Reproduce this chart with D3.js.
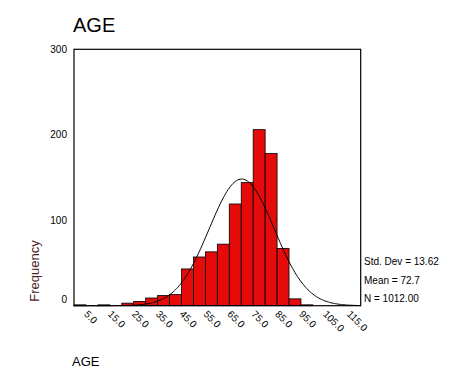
<html>
<head>
<title>AGE histogram</title>
<script src="https://d3js.org/d3.v7.min.js"></script>
<style>
  body { margin: 0; background: #fff; }
  text { font-family: Arial, "Liberation Sans", sans-serif; }
</style>
</head>
<body>
<div id="cont"></div>
<script>
// bin midpoints (width 5) and counts
var binMids = [5, 10, 15, 20, 25, 30, 35, 40, 45, 50, 55, 60, 65, 70, 75, 80, 85, 90, 95, 100, 105, 110, 115, 120];
var counts  = [1, 0, 1, 0, 3, 5, 9, 12, 13, 43, 57, 63, 72, 119, 144, 206, 178, 67, 8, 1, 0, 0, 0, 0];
var xTickVals = [5, 15, 25, 35, 45, 55, 65, 75, 85, 95, 105, 115];
var xTickLabels = ['5.0', '15.0', '25.0', '35.0', '45.0', '55.0', '65.0', '75.0', '85.0', '95.0', '105.0', '115.0'];
var yTickVals = [0, 100, 200, 300];
var statLabels = ['Std. Dev = 13.62', 'Mean = 72.7', 'N = 1012.00'];
var stdDev = 13.62, mean = 72.7, nCases = 1012, binWidth = 5;

(function() {
    var W = 476, H = 381,
        left = 74, top = 49.3, right = 360.7, bottom = 305.7;

    var svg = d3.select('#cont').append('svg')
        .attr('width', W)
        .attr('height', H);

    var x = d3.scaleLinear().domain([2.5, 122.5]).range([left, right]);
    var y = d3.scaleLinear().domain([0, 300]).range([bottom, top]);

    // title
    svg.append('text')
        .attr('x', 73).attr('y', 31.5)
        .style('font-size', '20px')
        .text('AGE');

    // bars
    svg.append('g').selectAll('rect')
        .data(counts)
        .enter().append('rect')
        .attr('x', function(d, i) { return x(binMids[i] - binWidth / 2); })
        .attr('width', function(d, i) { return x(binMids[i] + binWidth / 2) - x(binMids[i] - binWidth / 2); })
        .attr('y', function(d) { return y(d); })
        .attr('height', function(d) { return y(0) - y(d); })
        .attr('fill', '#e60b0b')
        .attr('stroke', function(d) { return d > 0 ? '#000' : 'none'; })
        .attr('stroke-width', 0.8);

    // fitted normal curve from the stated mean / sd
    var curvePts = d3.range(2.5, 122.51, 0.5).map(function(v) {
        var z = (v - mean) / stdDev;
        return [v, nCases * binWidth / (stdDev * Math.sqrt(2 * Math.PI)) * Math.exp(-0.5 * z * z)];
    });
    svg.append('path')
        .datum(curvePts)
        .attr('fill', 'none')
        .attr('stroke', '#000')
        .attr('stroke-width', 1)
        .attr('d', d3.line().x(function(d) { return x(d[0]); }).y(function(d) { return y(d[1]); }));

    // frame
    svg.append('rect')
        .attr('x', left).attr('y', top)
        .attr('width', right - left).attr('height', bottom - top)
        .attr('fill', 'none')
        .attr('stroke', '#000')
        .attr('stroke-width', 1.2);

    // y axis (labels only)
    var yAxis = svg.append('g')
        .attr('transform', 'translate(' + (left - 2) + ',0)')
        .call(d3.axisLeft(y).tickValues(yTickVals).tickSize(0).tickPadding(5));
    yAxis.select('.domain').remove();
    yAxis.selectAll('text')
        .style('font-size', '10px')
        .style('font-family', 'Arial, "Liberation Sans", sans-serif')
        .attr('fill', '#000')
        .attr('dy', function(d) { return d === 0 ? '-0.35em' : '0.32em'; });

    // x axis (rotated labels only)
    var xAxis = svg.append('g')
        .attr('transform', 'translate(0,' + bottom + ')')
        .call(d3.axisBottom(x).tickValues(xTickVals).tickSize(0)
            .tickFormat(function(d, i) { return xTickLabels[i]; }));
    xAxis.select('.domain').remove();
    xAxis.selectAll('text')
        .style('font-size', '10px')
        .style('font-family', 'Arial, "Liberation Sans", sans-serif')
        .style('text-anchor', 'start')
        .attr('fill', '#000')
        .attr('x', 0).attr('y', 0).attr('dy', 0)
        .attr('transform', 'translate(3,9) rotate(45)');

    // axis titles
    svg.append('text')
        .attr('transform', 'translate(39,271) rotate(-90)')
        .attr('text-anchor', 'middle')
        .style('font-size', '13px')
        .attr('fill', '#4a2020')
        .text('Frequency');

    svg.append('text')
        .attr('x', 72).attr('y', 366)
        .style('font-size', '13px')
        .text('AGE');

    // stats box text
    svg.append('g').selectAll('text')
        .data(statLabels)
        .enter().append('text')
        .attr('x', 364)
        .attr('y', function(d, i) { return 265 + i * 18.7; })
        .style('font-size', '10px')
        .text(function(d) { return d; });
})();
</script>
</body>
</html>
